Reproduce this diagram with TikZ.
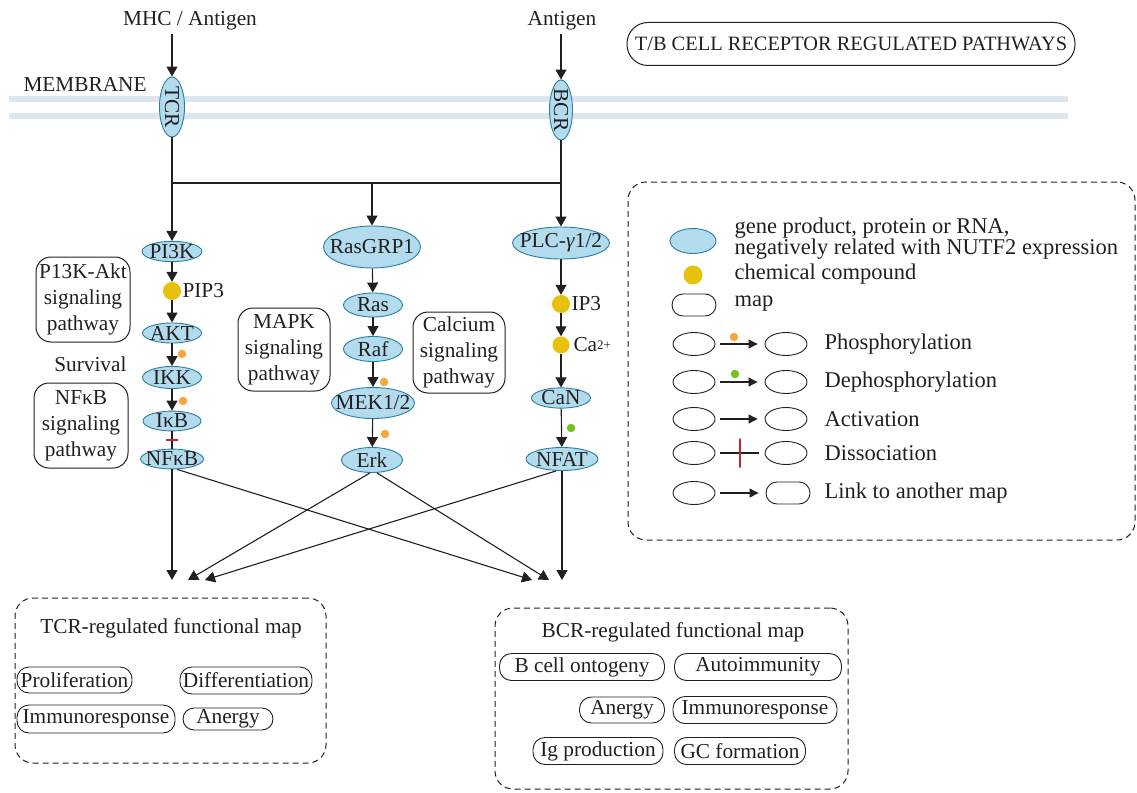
\documentclass[tikz,border=0pt]{standalone}
\usepackage{fontspec}
\setmainfont{Liberation Serif}
\usetikzlibrary{arrows.meta,shapes.geometric}
\definecolor{ink}{HTML}{231F20}
\definecolor{protfill}{HTML}{B2DBEE}
\definecolor{protdraw}{HTML}{2A7FA0}
\definecolor{chem}{HTML}{E8C10A}
\definecolor{phos}{HTML}{F7A541}
\definecolor{dephos}{HTML}{77C31E}
\definecolor{dissoc}{HTML}{C1272D}
\definecolor{memb}{HTML}{DCE6EE}
\newcommand\zw[1]{\makebox[0pt]{#1}}
\begin{document}
\begin{tikzpicture}[x=1pt,y=-1pt,
  base/.style={font=\fontsize{21.3}{25}\selectfont, text=ink},
  leg/.style={font=\fontsize{22.5}{21}\selectfont, text=ink},
  prot/.style={base, ellipse, draw=protdraw, fill=protfill, line width=0.9pt, inner sep=0pt},
  chemc/.style={circle, fill=chem, inner sep=0pt, minimum size=18pt},
  pdot/.style={circle, fill=phos, inner sep=0pt, minimum size=8.5pt},
  ddot/.style={circle, fill=dephos, inner sep=0pt, minimum size=8.5pt},
  arr/.style={draw=ink, line width=1.1pt, -{Triangle[width=11pt,length=10pt]}},
  ln/.style={draw=ink, line width=1.1pt},
  mapbox/.style={draw=ink, line width=1pt, rounded corners=15pt, align=center, inner sep=0pt, font=\fontsize{21.3}{26}\selectfont, text=ink},
  pill/.style={base, draw=ink, line width=0.9pt, rounded corners=12pt, inner sep=0pt},
  dbox/.style={draw=ink, line width=1pt, dash pattern=on 6pt off 4pt, rounded corners=18pt, inner sep=0pt},
  htick/.style={draw=dissoc, line width=1.1pt, minimum width=12pt, minimum height=0pt, inner sep=0pt},
  vtick/.style={draw=dissoc, line width=1.1pt, minimum width=0pt, minimum height=29pt, inner sep=0pt},
  lell/.style={ellipse, draw=ink, line width=0.9pt, minimum width=42pt, minimum height=23pt, inner sep=0pt},
  lpill/.style={draw=ink, line width=0.9pt, rounded corners=11pt, minimum width=44pt, minimum height=22pt, inner sep=0pt},
  larr/.style={draw=ink, line width=1.1pt, -{Triangle[width=9pt,length=9pt]}, shorten <=5pt, shorten >=7pt}
]
\useasboundingbox (0,0) rectangle (1137,792);
% membrane
\fill[memb] (9,96) rectangle (1068,102);
\fill[memb] (9,113) rectangle (1068,119);
\node[base, anchor=west] (membrane) at (20,84) {MEMBRANE};
\node[base] (mhc) at (190,21) {MHC / Antigen};
\node[base] (ag) at (562,21) {Antigen};
\node[base, draw=ink, line width=1pt, rounded corners=21pt, minimum width=448pt, minimum height=43pt, inner sep=0pt, font=\fontsize{20.4}{22}\selectfont] (title) at (851,44) {\zw{T/B CELL RECEPTOR REGULATED PATHWAYS}};

% receptors
\node[prot, rotate=-90, minimum width=60pt, minimum height=25pt] (tcr) at (172,107) {\zw{TCR}};
\node[prot, rotate=-90, minimum width=60pt, minimum height=23pt] (bcr) at (561,110) {\zw{BCR}};
\coordinate (j1) at (172,183);
\coordinate (j2) at (372,183);
\coordinate (j3) at (561,183);

% left column
\node[prot, minimum width=60pt, minimum height=19pt] (pi3k) at (172,251.5) {\zw{PI3K}};
\node[chemc] (pip3) at (172,291) {};
\node[base, anchor=west] (pip3t) at (179,291) {PIP3};
\node[prot, minimum width=59pt, minimum height=20pt] (akt) at (172,333) {\zw{AKT}};
\node[prot, minimum width=59pt, minimum height=22pt] (ikk) at (172,377.5) {\zw{IKK}};
\node[prot, minimum width=58pt, minimum height=19pt] (ikb) at (172,421) {\zw{IκB}};
\node[prot, minimum width=63pt, minimum height=19pt] (nfkb) at (172,459) {\zw{NFκB}};
\node[pdot] (pd1) at (182,354) {};
\node[pdot] (pd2) at (183,401) {};

% middle column
\node[prot, minimum width=97pt, minimum height=42pt] (rasgrp) at (372,247) {\zw{RasGRP1}};
\node[prot, minimum width=59pt, minimum height=24pt] (ras) at (373,305) {\zw{Ras}};
\node[prot, minimum width=59pt, minimum height=25pt] (raf) at (373,349) {\zw{Raf}};
\node[prot, minimum width=83pt, minimum height=31pt] (mek) at (373,403) {\zw{MEK1/2}};
\node[prot, minimum width=61pt, minimum height=25pt] (erk) at (372,460) {\zw{Erk}};
\node[pdot] (pd3) at (384,382) {};
\node[pdot] (pd4) at (385,434) {};

% right column
\node[prot, minimum width=97pt, minimum height=32pt] (plc) at (561,243) {\zw{PLC-\textit{γ}1/2}};
\node[chemc] (ip3) at (561,304) {};
\node[base, anchor=west] (ip3t) at (568,304) {IP3};
\node[chemc, minimum size=17pt] (ca) at (561,345) {};
\node[base, anchor=west] (cat) at (570,345) {Ca{\fontsize{13}{13}\selectfont\raisebox{0.45ex}{2+}}};
\node[prot, minimum width=59pt, minimum height=20pt] (can) at (561,398) {\zw{CaN}};
\node[prot, minimum width=72pt, minimum height=23pt] (nfat) at (562,459) {\zw{NFAT}};
\node[ddot] (dd1) at (571,428) {};

% pathway maps
\node[mapbox, minimum width=94pt, minimum height=85pt] (akmap) at (83,299.5) {P13K-Akt\\signaling\\pathway};
\node[base, anchor=east] (survival) at (130,364) {Survival};
\node[mapbox, minimum width=94pt, minimum height=85pt] (nfmap) at (81,425.5) {NFκB\\signaling\\pathway};
\node[mapbox, minimum width=92pt, minimum height=83pt] (mapk) at (284,349.5) {MAPK\\signaling\\pathway};
\node[mapbox, minimum width=92pt, minimum height=81pt] (calc) at (459,352.5) {Calcium\\signaling\\pathway};

% connectors top
\draw[arr] (mhc.south -| tcr) -- (tcr);
\draw[arr] (ag.south -| bcr) -- (bcr);
\draw[ln] (tcr) -- (j1) -- (j3);
\draw[arr] (bcr) -- (plc);
\draw[arr] (j1) -- (pi3k);
\draw[arr] (j2) -- (rasgrp);

\draw[arr] (pi3k) -- (pip3);
\draw[arr] (pip3) -- (akt);
\draw[arr] (akt) -- (ikk);
\draw[arr] (ikk) -- (ikb);
\draw[ln] (ikb) -- node[htick] {} (nfkb);

\draw[arr] (rasgrp) -- (ras);
\draw[arr] (ras) -- (raf);
\draw[arr] (raf) -- (mek);
\draw[arr] (mek) -- (erk);

\draw[arr] (plc) -- (ip3);
\draw[arr] (ip3) -- (ca);
\draw[arr] (ca) -- (can);
\draw[arr] (can) -- (nfat);

% bottom crossing arrows
\coordinate (t1) at (172,580);
\coordinate (t2) at (188,580);
\coordinate (t3) at (205,580);
\coordinate (b1) at (532,580);
\coordinate (b2) at (549,580);
\coordinate (b3) at (562,580);
\draw[arr] (nfkb) -- (t1);
\draw[arr] ([xshift=5pt]nfkb.south) -- (b1);
\draw[arr] ([xshift=-2pt]erk.south) -- (t2);
\draw[arr] ([xshift=5pt]erk.south) -- (b2);
\draw[arr] ([xshift=-6pt]nfat.south) -- (t3);
\draw[arr] (nfat) -- (b3);

% TCR functional map
\node[dbox, minimum width=311pt, minimum height=165pt] (tcrmap) at (170.5,680.5) {};
\node[base] (tcrtitle) at (171,628) {TCR-regulated functional map};
\node[pill, minimum width=115pt, minimum height=26pt] (prolif) at (74.5,680) {\zw{Proliferation}};
\node[pill, minimum width=132pt, minimum height=27pt] (diff) at (246,680.5) {\zw{Differentiation}};
\node[pill, minimum width=158pt, minimum height=28pt] (immt) at (96,719) {\zw{Immunoresponse}};
\node[pill, minimum width=90pt, minimum height=22pt, rounded corners=11pt] (anergyt) at (228,719) {\zw{Anergy}};

% BCR functional map
\node[dbox, minimum width=353pt, minimum height=181pt] (bcrmap) at (671.5,698.5) {};
\node[base] (bcrtitle) at (673,632) {BCR-regulated functional map};
\node[pill, minimum width=165pt, minimum height=27pt] (bont) at (582,667) {\zw{B cell ontogeny}};
\node[pill, minimum width=167pt, minimum height=27pt] (autoi) at (758,667) {\zw{Autoimmunity}};
\node[pill, minimum width=85pt, minimum height=26pt] (anergyb) at (622,710) {\zw{Anergy}};
\node[pill, minimum width=164pt, minimum height=27pt] (immb) at (755,710) {\zw{Immunoresponse}};
\node[pill, minimum width=130pt, minimum height=27pt] (igp) at (598,751) {\zw{Ig production}};
\node[pill, minimum width=131pt, minimum height=27pt] (gcf) at (740,751) {\zw{GC formation}};

% legend
\node[dbox, minimum width=507pt, minimum height=358pt] (legend) at (881.5,361) {};
\node[prot, minimum width=46pt, minimum height=25pt] (lprot) at (693,241) {};
\node[leg, anchor=west, align=left] (lprott) at (731,238.5) {gene product, protein or RNA,\\negatively related with NUTF2 expression};
\node[chemc, minimum size=19pt] (lchem) at (693,275) {};
\node[leg, anchor=west] (lchemt) at (731,274) {chemical compound};
\node[lpill] (lmap) at (694,305) {};
\node[leg, anchor=west] (lmapt) at (731,304) {map};

\node[lell] (pa) at (694,344) {};
\node[lell] (pb) at (786,344) {};
\draw[larr] (pa) -- (pb);
\node[pdot] (lpd) at (734,337) {};
\node[leg, anchor=west] (pt) at (821,344) {Phosphorylation};

\node[lell] (da) at (694,382) {};
\node[lell] (db) at (786,382) {};
\draw[larr] (da) -- (db);
\node[ddot] (ldd) at (735,374) {};
\node[leg, anchor=west] (dt) at (821,382) {Dephosphorylation};

\node[lell] (aa) at (694,419) {};
\node[lell] (ab) at (786,419) {};
\draw[larr] (aa) -- (ab);
\node[leg, anchor=west] (at) at (821,419) {Activation};

\node[lell] (sa) at (694,453) {};
\node[lell] (sb) at (786,453) {};
\draw[ln, shorten <=5pt, shorten >=6pt] (sa) -- node[vtick] {} (sb);
\node[leg, anchor=west] (st) at (821,453) {Dissociation};

\node[lell] (ka) at (694,493) {};
\node[lpill] (kb) at (788,493) {};
\draw[larr] (ka) -- (kb);
\node[leg, anchor=west] (kt) at (821,493) {Link to another map};
\end{tikzpicture}
\end{document}
